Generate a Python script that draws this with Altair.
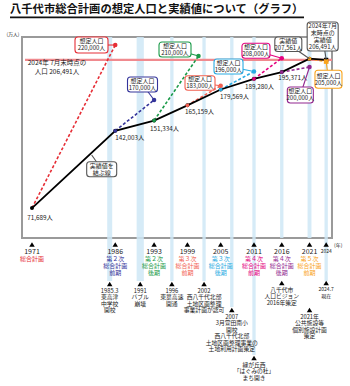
import altair as alt
import pandas as pd

# ---------------- data ----------------
TITLE = "八千代市総合計画の想定人口と実績値について（グラフ）"
UNIT_Y = "(万人)"
UNIT_X = "(年)"

ACTUAL_YEARS = [1971, 1986, 1993, 1999, 2005, 2011, 2016, 2021, 2024]
ACTUAL_VALUES = [7.1689, 14.2003, 15.1334, 16.5159, 17.9569, 18.9280, 19.5371, 20.7561, 20.6491]
ACTUAL_LABELS = ["71,689人", "142,003人", "151,334人", "165,159人", "179,569人",
                 "189,280人", "195,371人", "207,561人", "206,491人"]

PLAN_YEARS = [1971, 1986, 1993, 1999, 2005, 2011, 2016, 2021]
PLAN_TARGET_YEARS = [1986, 1993, 2001, 2005, 2011, 2016, 2021, 2024]
PLAN_TARGET_VALUES = [22.0, 17.0, 21.0, 18.3, 19.6, 20.8, 20.0, 20.5]
PLAN_TARGET_LABELS = ["220,000人", "170,000人", "210,000人", "183,000人",
                      "196,000人", "208,000人", "200,000人", "205,000人"]
PLAN_NAMES = ["総合計画", "第２次\n総合計画\n前期", "第２次\n総合計画\n後期",
              "第３次\n総合計画\n前期", "第３次\n総合計画\n後期", "第４次\n総合計画\n前期",
              "第４次\n総合計画\n後期", "第５次\n総合計画\n前期"]
LAST_TICK_YEAR = 2024

TARGET_CAPTION = "想定人口"
ACTUAL_CAPTION = "実績値"
LATEST_CAPTION = "2024年7月\n末時点の\n実績値"
ACTUAL_NOTE = "実績値を\n結ぶ線"
CURRENT_LABEL = "2024年 7月末時点の\n人口 206,491人"

EVENT_POS = [1985.0, 1990.5, 1996.2, 2002.0, 2007.0, 2011.0, 2016.0, 2021.0, 2024.0]
EVENT_TEXTS = [
    "1985.3\n東高津\n中学校\n開校",
    "1991\nバブル\n崩壊",
    "1996\n東葉高速\n開通",
    "2002\n西八千代北部\n土地区画整理\n事業計画が認可",
    "2007\n3月萱田南小\n開校\n西八千代北部\n土地区画整理事業の\n土地利用計画策定",
    "緑が丘西\n「はぐみの杜」\nまち開き",
    "八千代市\n人口ビジョン\n2016年策定",
    "2021年\n公共施設等\n個別施設計画\n策定",
    "2024.7\n現在",
]

# ---------------- style / layout ----------------
PLAN_COLORS = ["#e62e36", "#34349a", "#1a9a48", "#f26152", "#29abe2",
               "#e4007f", "#92278f", "#f9a31b"]
GRAY = "#555555"
BAND_COLOR = "#cfe7f6"
FONT = "Noto Sans CJK JP"

W, H = 310, 201
LEFT, TOP = 22, 37
XS = alt.Scale(domain=[1969.2, 2025.05], nice=False, zero=False)
YS = alt.Scale(domain=[4.45, 22.73], nice=False, zero=False)


def cx(v):
    return v - LEFT


def cy(v):
    return v - TOP


def X(f):
    return alt.X(f"{f}:Q", scale=XS, axis=None)


def Y(f):
    return alt.Y(f"{f}:Q", scale=YS, axis=None)


one = pd.DataFrame({"k": [0]})
layers = []

# base layer carrying axes and grid
actual_df = pd.DataFrame({"x": ACTUAL_YEARS, "y": ACTUAL_VALUES, "label": ACTUAL_LABELS})
xaxis = alt.Axis(values=list(range(1970, 2026)), labels=False, ticks=True, tickSize=3,
                 tickColor="#222", tickWidth=0.8, domainColor="#222", domainWidth=1.5,
                 grid=True, gridColor="#dadada", gridWidth=0.6, title=None)
yaxis = alt.Axis(values=[v / 2 for v in range(9, 46)],
                 labelExpr="(datum.value >= 6 && datum.value % 1 == 0) ? datum.value : ''",
                 labelOverlap=False, labelFontSize=7.5, labelColor="#222", labelPadding=2,
                 tickSize=3, tickColor="#333", tickWidth=0.8, domainColor="#444",
                 domainWidth=1.6, grid=True, gridColor="#dadada", gridWidth=0.6, title=None)
layers.append(alt.Chart(actual_df).mark_point(opacity=0).encode(
    x=alt.X("x:Q", scale=XS, axis=xaxis), y=alt.Y("y:Q", scale=YS, axis=yaxis)))

# event bands
BAND_HALF = [0.45, 0.65, 0.3, 0.3, 0.3, 0.3, 0.3, 0.35, 0.3]
BAND_BOTTOM = [281, 281, 281, 281, 307, 355, 238, 238, 281]
band_df = pd.DataFrame({"x0": [p - h for p, h in zip(EVENT_POS, BAND_HALF)],
                        "x1": [p + h for p, h in zip(EVENT_POS, BAND_HALF)],
                        "b": BAND_BOTTOM})
for b in sorted(set(BAND_BOTTOM)):
    layers.append(alt.Chart(band_df[band_df.b == b]).mark_rect(
        color=BAND_COLOR, opacity=0.85, clip=False).encode(
        x=X("x0"), x2="x1:Q", y=alt.value(0), y2=alt.value(cy(b))))

# current population line
cur_df = pd.DataFrame({"y": [ACTUAL_VALUES[-1]], "t": [CURRENT_LABEL]})
layers.append(alt.Chart(cur_df).mark_rule(color="#f08a8f", strokeWidth=2.2).encode(
    y=Y("y"), x=alt.value(3), x2=alt.value(W)))
layers.append(alt.Chart(cur_df).mark_text(fontSize=6.5, lineBreak="\n", lineHeight=9,
                                          baseline="top", color="#222", dy=0.5).encode(
    x=alt.value(cx(57)), y=Y("y"), text="t:N"))

# plan projection dashed lines
plan_ids = [f"p{i}" for i in range(len(PLAN_YEARS))]
start_vals = [ACTUAL_VALUES[ACTUAL_YEARS.index(y)] for y in PLAN_YEARS]
rows = []
for i, pid in enumerate(plan_ids):
    rows.append({"plan": pid, "x": PLAN_YEARS[i], "y": start_vals[i]})
    rows.append({"plan": pid, "x": PLAN_TARGET_YEARS[i], "y": PLAN_TARGET_VALUES[i]})
proj_df = pd.DataFrame(rows)
cscale = alt.Scale(domain=plan_ids, range=PLAN_COLORS)
layers.append(alt.Chart(proj_df).mark_line(strokeDash=[3, 2], strokeWidth=1.6).encode(
    x=X("x"), y=Y("y"), color=alt.Color("plan:N", scale=cscale, legend=None),
    detail="plan:N"))

# actual line
layers.append(alt.Chart(actual_df).mark_line(color="black", strokeWidth=1.8).encode(
    x=X("x"), y=Y("y")))
layers.append(alt.Chart(actual_df.iloc[:-1]).mark_circle(color="black", size=16, opacity=1).encode(
    x=X("x"), y=Y("y")))
layers.append(alt.Chart(actual_df.iloc[-1:]).mark_square(color="black", size=18, opacity=1).encode(
    x=X("x"), y=Y("y")))
start_df = pd.DataFrame({"x": PLAN_YEARS[1:], "y": start_vals[1:], "plan": plan_ids[1:]})
layers.append(alt.Chart(start_df).mark_circle(size=14, opacity=1).encode(
    x=X("x"), y=Y("y"), color=alt.Color("plan:N", scale=cscale, legend=None)))
target_df = pd.DataFrame({"x": PLAN_TARGET_YEARS, "y": PLAN_TARGET_VALUES, "plan": plan_ids})
layers.append(alt.Chart(target_df.iloc[:-1]).mark_circle(size=20, opacity=1).encode(
    x=X("x"), y=Y("y"), color=alt.Color("plan:N", scale=cscale, legend=None)))
layers.append(alt.Chart(target_df.iloc[-1:]).mark_square(size=22, opacity=1).encode(
    x=X("x"), y=Y("y"), color=alt.Color("plan:N", scale=cscale, legend=None)))

# value labels
VALUE_OFFSETS = [(8, 10, "center"), (0, 7, "left"), (-4, 8.5, "left"), (-2.4, 6.5, "left"),
                 (-0.7, 8, "left"), (-9, 8, "left"), (-3.5, 6, "left")]
for i, (dx, dy, al) in enumerate(VALUE_OFFSETS):
    layers.append(alt.Chart(actual_df.iloc[i:i + 1]).mark_text(
        fontSize=6.3, color="#222", align=al, baseline="middle", dx=dx, dy=dy).encode(
        x=X("x"), y=Y("y"), text="label:N"))


# callouts
def callout(year, value, text, color, dx, dy, w, h, tip=(0, 0), lh=7.0):
    df = pd.DataFrame({"x": [year], "y": [value], "t": [text]})
    base = alt.Chart(df)
    nlines = text.count("\n") + 1
    out = [
        base.mark_rule(color=color, strokeWidth=1.1, xOffset=dx, yOffset=dy,
                       x2Offset=tip[0], y2Offset=tip[1]).encode(
            x=X("x"), y=Y("y"), x2="x:Q", y2="y:Q"),
        base.mark_rect(fill="white", stroke=color, strokeWidth=1.1, cornerRadius=3,
                       xOffset=dx - w / 2, x2Offset=dx + w / 2,
                       yOffset=dy - h / 2, y2Offset=dy + h / 2, clip=False).encode(
            x=X("x"), x2="x:Q", y=Y("y"), y2="y:Q"),
        base.mark_text(fontSize=6.0, lineHeight=lh, lineBreak="\n", align="center",
                       baseline="top", dx=dx, dy=dy - nlines * lh / 2 + 0.3,
                       color="#222").encode(
            x=X("x"), y=Y("y"), text="t:N"),
    ]
    return out


TARGET_BOX = [(-23.75, 0, 33, 16), (-11.6, -15.5, 30, 15), (-23.5, -6.5, 32, 15),
              (-20.7, -2.7, 30, 14.5), (-25.5, -4.9, 29, 15), (-25.8, -7.4, 28, 15),
              (-9.2, 28, 26, 16), (2.3, 17.7, 27, 18)]
for i, (dx, dy, w, h) in enumerate(TARGET_BOX):
    layers += callout(PLAN_TARGET_YEARS[i], PLAN_TARGET_VALUES[i],
                      TARGET_CAPTION + "\n" + PLAN_TARGET_LABELS[i], PLAN_COLORS[i], dx, dy, w, h)
layers += callout(ACTUAL_YEARS[7], ACTUAL_VALUES[7], ACTUAL_CAPTION + "\n" + ACTUAL_LABELS[7],
                  GRAY, -21.2, -14.5, 27, 14.5)
layers += callout(ACTUAL_YEARS[8], ACTUAL_VALUES[8], LATEST_CAPTION + "\n" + ACTUAL_LABELS[8],
                  GRAY, -3.5, -23.4, 31, 29)
layers += callout(ACTUAL_YEARS[0], ACTUAL_VALUES[0], ACTUAL_NOTE, GRAY, 69.7, -38.9, 30, 15,
                  tip=(59.7, -53.1))

# below-axis plan markers and labels
tri_df = pd.DataFrame({"x": PLAN_YEARS + [LAST_TICK_YEAR]})
layers.append(alt.Chart(tri_df).mark_point(shape="triangle-up", filled=True, color="black",
                                           size=30, opacity=1).encode(
    x=X("x"), y=alt.value(cy(244.5))))
plan_df = pd.DataFrame({"x": PLAN_YEARS, "year": [str(y) for y in PLAN_YEARS],
                        "name": PLAN_NAMES, "plan": plan_ids})
layers.append(alt.Chart(plan_df).mark_text(fontSize=7, color="#222", baseline="middle").encode(
    x=X("x"), y=alt.value(cy(252)), text="year:N"))
layers.append(alt.Chart(plan_df).mark_text(fontSize=6.0, lineBreak="\n", lineHeight=7.2,
                                           baseline="top").encode(
    x=X("x"), y=alt.value(cy(255.8)), text="name:N",
    color=alt.Color("plan:N", scale=cscale, legend=None)))
last_df = pd.DataFrame({"x": [LAST_TICK_YEAR], "t": [str(LAST_TICK_YEAR)]})
layers.append(alt.Chart(last_df).mark_text(fontSize=5, color="#222", baseline="middle").encode(
    x=X("x"), y=alt.value(cy(250.5)), text="t:N"))
layers.append(alt.Chart(pd.DataFrame({"t": [UNIT_X]})).mark_text(
    fontSize=5, color="#222", align="left", baseline="middle").encode(
    x=alt.value(cx(334)), y=alt.value(cy(245)), text="t:N"))

# events
EVENT_TRI_Y = [284, 284, 284, 284, 310, 358, 283, 310, 283]
EVENT_FS = [5.8, 5.8, 5.8, 5.8, 5.8, 5.8, 5.8, 5.8, 5]
ev_df = pd.DataFrame({"x": EVENT_POS, "t": EVENT_TEXTS, "ty": EVENT_TRI_Y})
for ty in sorted(set(EVENT_TRI_Y)):
    layers.append(alt.Chart(ev_df[ev_df.ty == ty]).mark_point(
        shape="triangle-up", filled=True, color="black", size=30, opacity=1).encode(
        x=X("x"), y=alt.value(cy(ty))))
for i in range(len(EVENT_POS)):
    layers.append(alt.Chart(ev_df.iloc[i:i + 1]).mark_text(
        fontSize=EVENT_FS[i], lineBreak="\n", lineHeight=6.4 if EVENT_FS[i] > 5 else 7,
        baseline="top", color="#222").encode(
        x=X("x"), y=alt.value(cy(EVENT_TRI_Y[i] + 4)), text="t:N"))

# title, underline, unit
layers.append(alt.Chart(pd.DataFrame({"t": [TITLE]})).mark_text(
    fontSize=11.3, fontWeight="bold", align="left", baseline="middle", color="#111").encode(
    x=alt.value(cx(10)), y=alt.value(cy(9.5)), text="t:N"))
layers.append(alt.Chart(one).mark_rule(color="#111", strokeWidth=1.8).encode(
    x=alt.value(cx(10)), x2=alt.value(cx(304)), y=alt.value(cy(17.3))))
layers.append(alt.Chart(pd.DataFrame({"t": [UNIT_Y]})).mark_text(
    fontSize=4.8, color="#222", baseline="middle").encode(
    x=alt.value(cx(13)), y=alt.value(cy(34.5)), text="t:N"))

chart = alt.layer(*layers).properties(
    width=W, height=H,
    autosize=alt.AutoSizeParams(type="none"),
    padding={"left": LEFT, "top": TOP, "right": 350 - LEFT - W, "bottom": 386 - TOP - H},
).configure(font=FONT, background="white").configure_view(stroke="#9a9a9a", strokeWidth=2)

chart.save("out.html", embed_options={"renderer": "svg", "actions": False})
